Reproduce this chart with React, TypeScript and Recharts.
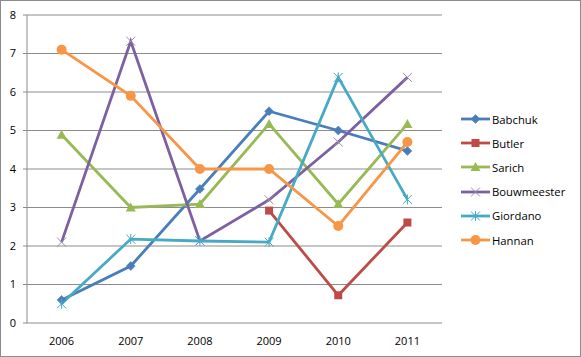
import React from "react";
import { LineChart, Line, XAxis, YAxis, CartesianGrid } from "recharts";

const years = ["2006", "2007", "2008", "2009", "2010", "2011"];
const yTicks = [0, 1, 2, 3, 4, 5, 6, 7, 8];

const babchuk = [0.6, 1.48, 3.48, 5.5, 5.0, 4.47];
const butler = [null, null, null, 2.92, 0.72, 2.61];
const sarich = [4.89, 3.0, 3.09, 5.17, 3.09, 5.17];
const bouwmeester = [2.1, 7.32, 2.13, 3.2, 4.7, 6.38];
const giordano = [0.5, 2.18, 2.13, 2.1, 6.38, 3.21];
const hannan = [7.1, 5.9, 4.0, 4.0, 2.52, 4.7];

type Shape = "diamond" | "square" | "triangle" | "x" | "star" | "circle";

const series: { key: string; name: string; color: string; shape: Shape; values: (number | null)[] }[] = [
  { key: "babchuk", name: "Babchuk", color: "#4a7ebb", shape: "diamond", values: babchuk },
  { key: "butler", name: "Butler", color: "#be4b48", shape: "square", values: butler },
  { key: "sarich", name: "Sarich", color: "#98b954", shape: "triangle", values: sarich },
  { key: "bouwmeester", name: "Bouwmeester", color: "#7d60a0", shape: "x", values: bouwmeester },
  { key: "giordano", name: "Giordano", color: "#46aac5", shape: "star", values: giordano },
  { key: "hannan", name: "Hannan", color: "#f79646", shape: "circle", values: hannan },
];

// x sits in the middle of each category band so the axis ticks fall between years
const data = years.map((year, i) => {
  const row: Record<string, number | string | null> = { year, x: i + 0.5 };
  series.forEach((s) => {
    row[s.key] = s.values[i];
  });
  return row;
});

function Marker({ shape, cx, cy, color }: { shape: Shape; cx: number; cy: number; color: string }) {
  switch (shape) {
    case "diamond":
      return <polygon points={`${cx},${cy - 4.5} ${cx + 4.5},${cy} ${cx},${cy + 4.5} ${cx - 4.5},${cy}`} fill={color} stroke={color} strokeWidth={0.5} />;
    case "square":
      return <rect x={cx - 4} y={cy - 4} width={8} height={8} fill={color} />;
    case "triangle":
      return <polygon points={`${cx},${cy - 5} ${cx + 5},${cy + 4} ${cx - 5},${cy + 4}`} fill={color} />;
    case "x":
      return (
        <g stroke="#9a8bb0" strokeWidth={1}>
          <line x1={cx - 4.5} y1={cy - 4.5} x2={cx + 4.5} y2={cy + 4.5} />
          <line x1={cx - 4.5} y1={cy + 4.5} x2={cx + 4.5} y2={cy - 4.5} />
        </g>
      );
    case "star":
      return (
        <g stroke={color} strokeWidth={1}>
          <line x1={cx - 4.5} y1={cy - 4.5} x2={cx + 4.5} y2={cy + 4.5} />
          <line x1={cx - 4.5} y1={cy + 4.5} x2={cx + 4.5} y2={cy - 4.5} />
          <line x1={cx} y1={cy - 5} x2={cx} y2={cy + 5} />
        </g>
      );
    default:
      return <circle cx={cx} cy={cy} r={5} fill={color} />;
  }
}

function Legend() {
  return (
    <div style={{ position: "absolute", left: 460, top: 106, fontFamily: "'Open Sans', sans-serif", fontSize: 11.3 }}>
      {series.map((s) => (
        <div key={s.key} style={{ display: "flex", alignItems: "center", height: 24.2 }}>
          <svg width={30} height={12}>
            <line x1={0} y1={6} x2={29} y2={6} stroke={s.color} strokeWidth={2.8} />
            <Marker shape={s.shape} cx={14.5} cy={6} color={s.color} />
          </svg>
          <span style={{ marginLeft: 1, color: "#000" }}>{s.name}</span>
        </div>
      ))}
    </div>
  );
}

export default function App() {
  return (
    <div
      style={{
        position: "absolute",
        left: 0,
        top: 0,
        width: 581,
        height: 357,
        boxSizing: "border-box",
        border: "1px solid #8c8c8c",
        background: "#fff",
      }}
    >
      <div style={{ position: "absolute", left: -1, top: -1 }}>
        <LineChart width={581} height={357} data={data} margin={{ top: 15, right: 139, bottom: 0, left: 0 }}>
          <CartesianGrid vertical={false} stroke="#8c8c8c" />
          <XAxis
            xAxisId="pos"
            dataKey="x"
            type="number"
            domain={[0, 6]}
            ticks={[0, 1, 2, 3, 4, 5, 6]}
            tickFormatter={() => ""}
            height={0}
            tickSize={4}
            stroke="#8c8c8c"
          />
          <XAxis
            xAxisId="cat"
            dataKey="year"
            scale="band"
            height={34}
            axisLine={false}
            tickLine={false}
            tickMargin={8}
            tick={{ fill: "#000", fontSize: 11, fontFamily: "'Open Sans', sans-serif" }}
          />
          <YAxis
            domain={[0, 8]}
            ticks={yTicks}
            width={27}
            tickSize={4}
            tickMargin={7}
            stroke="#8c8c8c"
            tick={{ fill: "#000", fontSize: 11, fontFamily: "'Open Sans', sans-serif" }}
          />
          {series.map((s) => (
            <Line
              key={s.key}
              xAxisId="pos"
              dataKey={s.key}
              name={s.name}
              stroke={s.color}
              strokeWidth={2.8}
              isAnimationActive={false}
              connectNulls={false}
              dot={(p: any) =>
                p.value == null || p.cx == null ? (
                  <g key={`${s.key}-${p.index}`} />
                ) : (
                  <Marker key={`${s.key}-${p.index}`} shape={s.shape} cx={p.cx} cy={p.cy} color={s.color} />
                )
              }
              activeDot={false}
            />
          ))}
        </LineChart>
      </div>
      <Legend />
    </div>
  );
}
